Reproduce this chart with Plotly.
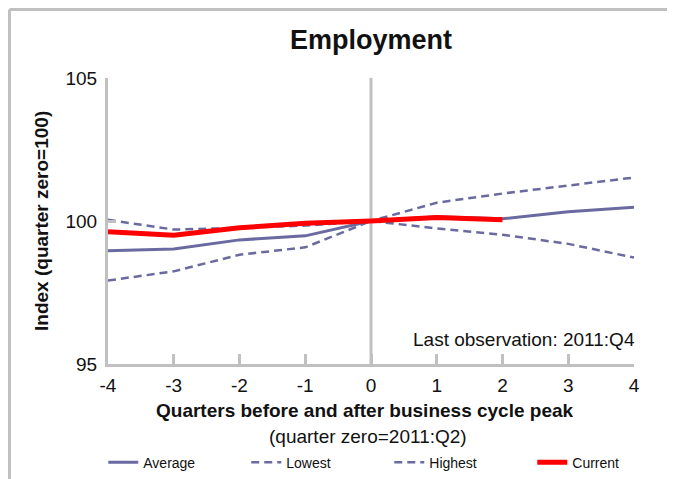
import plotly.graph_objects as go

quarters = [-4, -3, -2, -1, 0, 1, 2, 3, 4]
average = [98.96, 99.02, 99.34, 99.48, 100.0, 100.15, 100.08, 100.32, 100.48]
lowest = [97.92, 98.24, 98.82, 99.08, 100.0, 99.74, 99.52, 99.20, 98.72]
highest = [100.04, 99.70, 99.76, 99.84, 100.0, 100.64, 100.96, 101.24, 101.52]
current_quarters = [-4, -3, -2, -1, 0, 1, 2]
current = [99.62, 99.50, 99.76, 99.92, 100.0, 100.12, 100.04]

x_ticks = [-4, -3, -2, -1, 0, 1, 2, 3, 4]
y_ticks = [95, 100, 105]

PURPLE = "#6a6aa0"
GRAY = "#c0c0c0"
FONT = "Liberation Sans, Arial, sans-serif"
TXT = "#111111"

fig = go.Figure()
fig.add_trace(go.Scatter(x=quarters, y=average, name="Average", mode="lines",
                         line=dict(color=PURPLE, width=3)))
fig.add_trace(go.Scatter(x=quarters, y=lowest, name="Lowest", mode="lines",
                         line=dict(color=PURPLE, width=2.5, dash="8px,5px")))
fig.add_trace(go.Scatter(x=quarters, y=highest, name="Highest", mode="lines",
                         line=dict(color=PURPLE, width=2.5, dash="8px,5px")))
fig.add_trace(go.Scatter(x=current_quarters, y=current, name="Current", mode="lines",
                         line=dict(color="#ff0000", width=5)))

# vertical line at quarter zero
fig.add_shape(type="line", xref="x", yref="y", x0=0, x1=0, y0=95, y1=105,
              line=dict(color=GRAY, width=3), layer="below")
# outer frame (top and left)
fig.add_shape(type="line", xref="paper", yref="paper", x0=-0.1873, x1=1.1,
              y0=1.2395, y1=1.2395, line=dict(color=GRAY, width=3))
fig.add_shape(type="line", xref="paper", yref="paper", x0=-0.1873, x1=-0.1873,
              y0=1.2395, y1=-0.45, line=dict(color=GRAY, width=3))

fig.update_layout(
    width=667, height=471,
    margin=dict(l=100, r=41, t=70, b=115, autoexpand=False),
    paper_bgcolor="white", plot_bgcolor="white",
    font=dict(family=FONT, color=TXT),
    title=dict(text="<b>Employment</b>", x=0.5, xref="paper", xanchor="center",
               y=1 - 32 / 471, yref="container", yanchor="middle",
               font=dict(size=27, family=FONT, color=TXT)),
    showlegend=True,
    legend=dict(orientation="h", x=-0.009, xanchor="left", y=-0.345, yanchor="middle",
                font=dict(size=14, family=FONT, color=TXT), entrywidth=98,
                entrywidthmode="pixels", itemwidth=30, bgcolor="rgba(0,0,0,0)"),
)

fig.update_xaxes(range=[-4, 4], tickvals=x_ticks, ticktext=[str(v) for v in x_ticks],
                 showgrid=False, zeroline=False, showline=True, linecolor=GRAY, linewidth=3,
                 ticks="inside", ticklen=10, tickwidth=2.5, tickcolor=GRAY,
                 ticklabelstandoff=2,
                 tickfont=dict(size=19, family=FONT, color=TXT))
fig.update_yaxes(range=[95, 105], tickvals=y_ticks, ticktext=[str(v) for v in y_ticks],
                 showgrid=False, zeroline=False, showline=True, linecolor=GRAY, linewidth=3,
                 ticks="inside", ticklen=8, tickwidth=2.5, tickcolor=GRAY,
                 ticklabelstandoff=4,
                 tickfont=dict(size=19, family=FONT, color=TXT))

fig.add_annotation(text="<b>Index (quarter zero=100)</b>", xref="paper", yref="paper",
                   x=-0.1275, y=0.5, xanchor="center", yanchor="middle",
                   textangle=-90, showarrow=False,
                   font=dict(size=19, family=FONT, color=TXT))
fig.add_annotation(text="<b>Quarters before and after business cycle peak</b>",
                   xref="paper", yref="paper", x=0.489, y=-0.161,
                   xanchor="center", yanchor="middle", showarrow=False,
                   font=dict(size=19, family=FONT, color=TXT))
fig.add_annotation(text="(quarter zero=2011:Q2)", xref="paper", yref="paper",
                   x=0.494, y=-0.255, xanchor="center", yanchor="middle", showarrow=False,
                   font=dict(size=19, family=FONT, color=TXT))
fig.add_annotation(text="Last observation: 2011:Q4", xref="paper", yref="paper",
                   x=1.006, y=0.084, xanchor="right", yanchor="middle", showarrow=False,
                   font=dict(size=19, family=FONT, color=TXT))

fig.write_html("out.html")
